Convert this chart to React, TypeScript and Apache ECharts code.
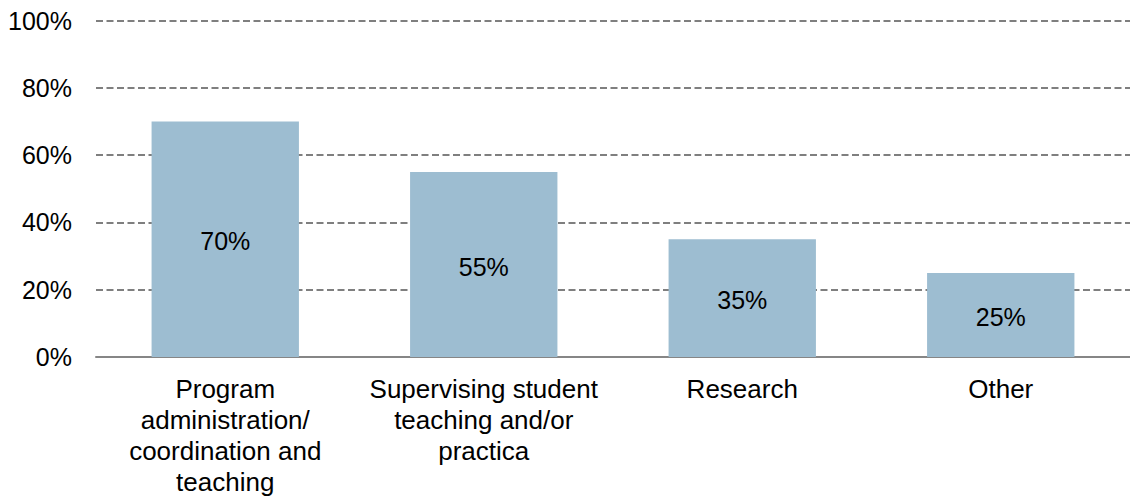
import React, { useEffect, useRef } from "react";
import * as echarts from "echarts";

const categories = [
  "Program\nadministration/\ncoordination and\nteaching",
  "Supervising student\nteaching and/or\npractica",
  "Research",
  "Other",
];
const values = [70, 55, 35, 25];
const yTicks = { min: 0, max: 100, interval: 20 };

export default function App() {
  const ref = useRef<HTMLDivElement>(null);
  useEffect(() => {
    const chart = echarts.init(ref.current!, null, { renderer: "svg" });
    const font = "Liberation Sans, Arial, sans-serif";
    chart.setOption({
      animation: false,
      grid: { left: 96, right: -6, top: 20.7, bottom: 139, containLabel: false },
      xAxis: {
        type: "category",
        data: categories,
        axisLine: { show: true, lineStyle: { color: "#868686", width: 2 } },
        axisTick: { show: false },
        axisLabel: {
          color: "#000",
          fontFamily: font,
          fontSize: 26,
          lineHeight: 31,
          margin: 16,
          interval: 0,
        },
      },
      yAxis: {
        type: "value",
        min: yTicks.min,
        max: yTicks.max,
        interval: yTicks.interval,
        axisLine: { show: false },
        axisTick: { show: false },
        axisLabel: {
          color: "#000",
          fontFamily: font,
          fontSize: 25,
          margin: 24,
          formatter: (v: number) => `${v}%`,
        },
        splitLine: { lineStyle: { color: "#7f7f7f", type: [7, 3.5], width: 2 } },
      },
      series: [
        {
          type: "bar",
          data: values,
          barWidth: "57%",
          itemStyle: { color: "#9DBDD1" },
          label: {
            show: true,
            position: "inside",
            offset: [0, 2],
            color: "#000",
            fontFamily: font,
            fontSize: 25,
            formatter: (p: any) => `${p.value}%`,
          },
        },
      ],
    });
    return () => chart.dispose();
  }, []);
  return (
    <div
      ref={ref}
      style={{ position: "absolute", left: 0, top: 0, width: 1130, height: 497, background: "#fff" }}
    />
  );
}
